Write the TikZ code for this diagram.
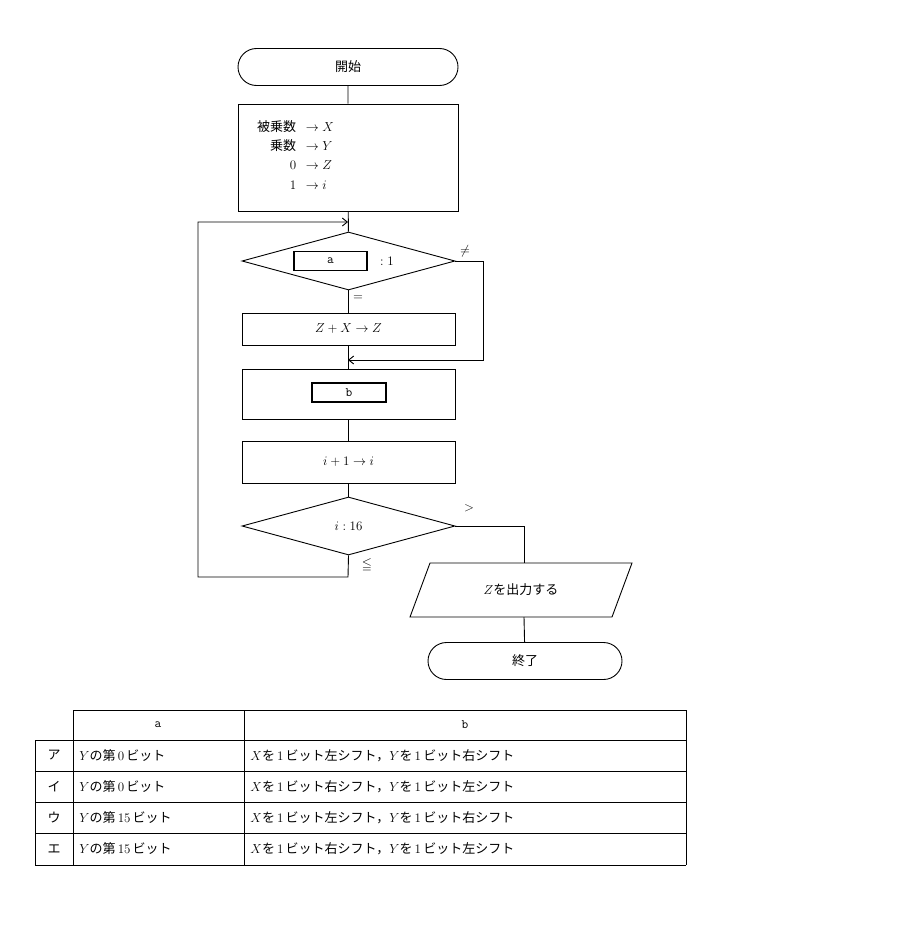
\documentclass[tikz,border=0pt]{standalone}
\usepackage{fix-cm}
\usepackage{amssymb}
\usepackage{fontspec}
\newfontfamily\cjk{Noto Sans CJK JP}
\usetikzlibrary{shapes.geometric,shapes.misc,arrows.meta}
\begin{document}
\begin{tikzpicture}[x=1pt,y=-1pt,line width=0.9pt,
  every node/.style={font=\cjk\fontsize{13}{15}\selectfont},
  box/.style={draw,minimum width=213pt,inner sep=0pt},
  term/.style={draw,rounded rectangle,minimum width=220pt,minimum height=37pt,inner sep=0pt},
  dia/.style={draw,diamond,aspect=3.67,minimum width=213pt,minimum height=58pt,inner sep=0pt},
  ibox/.style={draw,line width=1.6pt,minimum height=19pt,inner sep=0pt},
  arr/.style={-{Straight Barb[length=5pt,width=8pt]}},
  cell/.style={anchor=west,inner sep=0pt}]
\useasboundingbox (0,0) rectangle (902,934);
\node[term] (start) at (348,67) {開始};
\node[box,minimum width=220pt,minimum height=107pt] (init) at (348,157.5) {};
\node[anchor=east] (t1) at (300,127) {被乗数};
\node[anchor=west] (t1b) at (302,127) {$\to X$};
\node[anchor=east] (t2) at (300,146) {乗数};
\node[anchor=west] (t2b) at (302,146) {$\to Y$};
\node[anchor=east] (t3) at (300,165) {$0$};
\node[anchor=west] (t3b) at (302,165) {$\to Z$};
\node[anchor=east] (t4) at (300,185) {$1$};
\node[anchor=west] (t4b) at (302,185) {$\to i$};
\coordinate (j1) at (348,222);
\node[dia] (d1) at (348.5,261) {};
\node[ibox,minimum width=73pt] (ia) at (330.5,261) {\ttfamily a};
\node (c1) at (387,261) {$:1$};
\node (ne) at (465,251) {$\neq$};
\node (eq) at (358,298) {$=$};
\node[box,minimum height=32pt] (add) at (348.5,329) {$Z+X\to Z$};
\coordinate (j2) at (348,360);
\node[box,minimum height=50pt] (bb) at (348.5,394) {};
\node[ibox,minimum width=74pt] (ib) at (349,392.5) {\ttfamily b};
\node[box,minimum height=42pt] (inc) at (348.5,462) {$i+1\to i$};
\node[dia] (d2) at (348.5,526) {$i:16$};
\node (gt) at (469,508) {$>$};
\node (le) at (367,565) {$\leqq$};
\coordinate (p1) at (430,563);
\coordinate (p2) at (632,563);
\coordinate (p3) at (612,617);
\coordinate (p4) at (410,617);
\draw (p1) -- (p2) -- (p3) -- (p4) -- cycle;
\node (out) at (521,590) {$Z$を出力する};
\coordinate (outn) at (524,563);
\coordinate (outs) at (524,617);
\node[term,minimum width=194pt] (end) at (525,661) {終了};
\draw (start) -- (init);
\draw (init) -- (d1);
\draw (d1) -- (add);
\draw (add) -- (bb);
\draw (bb) -- (inc);
\draw (inc) -- (d2);
\draw[arr] (d1.east) -- (483,261) -- (483,360) -- (j2);
\draw[arr] (d2.south) -- (348,577) -- (198,577) -- (198,222) -- (j1);
\draw (d2.east) -- (524,526) -- (outn);
\draw (outs) -- (end);
% table
\draw (35,740) -- (35,865) (73,710) -- (73,865) (244,710) -- (244,865) (686,710) -- (686,865);
\draw (73,710) -- (686,710);
\foreach \y in {740,771,802,833,865} \draw (35,\y) -- (686,\y);
\node (ha) at (158,725) {\ttfamily a};
\node (hb) at (465,725) {\ttfamily b};
\foreach \k/\y in {ア/755.5,イ/786.5,ウ/817.5,エ/849} \node (k\y) at (54,\y) {\k};
\node[cell] (a1) at (79,755.5) {$Y$の第$\,0\,$ビット};
\node[cell] (a2) at (79,786.5) {$Y$の第$\,0\,$ビット};
\node[cell] (a3) at (79,817.5) {$Y$の第$\,15\,$ビット};
\node[cell] (a4) at (79,849) {$Y$の第$\,15\,$ビット};
\node[cell] (b1) at (250,755.5) {$X$を$\,1\,$ビット左シフト，$Y$を$\,1\,$ビット右シフト};
\node[cell] (b2) at (250,786.5) {$X$を$\,1\,$ビット右シフト，$Y$を$\,1\,$ビット左シフト};
\node[cell] (b3) at (250,817.5) {$X$を$\,1\,$ビット左シフト，$Y$を$\,1\,$ビット右シフト};
\node[cell] (b4) at (250,849) {$X$を$\,1\,$ビット右シフト，$Y$を$\,1\,$ビット左シフト};
\end{tikzpicture}
\end{document}
